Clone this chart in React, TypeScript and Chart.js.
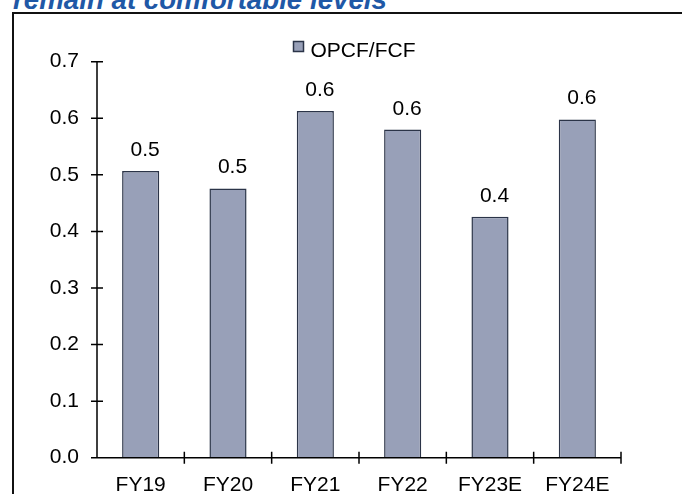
import React, { useEffect, useRef } from "react";
import { Chart, registerables } from "chart.js";

Chart.register(...registerables);

// Chart data
const categories = ["FY19", "FY20", "FY21", "FY22", "FY23E", "FY24E"];
const opcfToFcf = [0.507, 0.476, 0.613, 0.58, 0.426, 0.598];
const yTicks = [0, 0.1, 0.2, 0.3, 0.4, 0.5, 0.6, 0.7];
const seriesName = "OPCF/FCF";
const heading = "remain at comfortable levels";

const FONT = "'Liberation Sans', Arial, Helvetica, sans-serif";
const FONT_SIZE = 21;
const BAR_FILL = "#98a0b8";
const BAR_EDGE = "#2b3448";
const INK = "#000000";
const W = 682;
const H = 494;

// Axis lines with tick marks that cross the axis on both sides
const crossAxes = {
  id: "crossAxes",
  afterDatasetsDraw(chart: any) {
    const { ctx, chartArea: a, scales } = chart;
    const xs = scales.x;
    const ys = scales.y;
    const y0 = ys.getPixelForValue(0);
    const yTop = ys.getPixelForValue(yTicks[yTicks.length - 1]);
    ctx.save();
    ctx.strokeStyle = INK;
    ctx.lineWidth = 1.5;
    ctx.beginPath();
    ctx.moveTo(a.left, yTop);
    ctx.lineTo(a.left, y0);
    ctx.moveTo(a.left, y0);
    ctx.lineTo(a.right, y0);
    yTicks.forEach((v) => {
      const py = ys.getPixelForValue(v);
      ctx.moveTo(a.left - 6, py);
      ctx.lineTo(v === 0 ? a.left : a.left + 6, py);
    });
    const n = categories.length;
    for (let i = 1; i <= n; i++) {
      const px = i === n ? a.right : (xs.getPixelForValue(i - 1) + xs.getPixelForValue(i)) / 2;
      ctx.moveTo(px, y0 - 6);
      ctx.lineTo(px, y0 + 6);
    }
    ctx.stroke();
    ctx.restore();
  },
};

// Value labels above each bar
const valueLabels = {
  id: "valueLabels",
  afterDatasetsDraw(chart: any) {
    const { ctx } = chart;
    const meta = chart.getDatasetMeta(0);
    ctx.save();
    ctx.fillStyle = INK;
    ctx.font = `${FONT_SIZE}px ${FONT}`;
    ctx.textAlign = "center";
    ctx.textBaseline = "alphabetic";
    meta.data.forEach((bar: any, i: number) => {
      ctx.fillText(opcfToFcf[i].toFixed(1), bar.x + 4.5, bar.y - 15);
    });
    ctx.restore();
  },
};

// Single-entry legend above the plot
const seriesKey = {
  id: "seriesKey",
  afterDraw(chart: any) {
    const { ctx, chartArea: a } = chart;
    const ds = chart.data.datasets[0];
    ctx.save();
    ctx.font = `${FONT_SIZE}px ${FONT}`;
    const tw = ctx.measureText(ds.label).width;
    const box = 10;
    const gap = 7;
    const total = box + gap + tw;
    const left = (a.left + a.right) / 2 - 4.5 - total / 2;
    const boxTop = 41.5;
    ctx.fillStyle = ds.backgroundColor;
    ctx.fillRect(left, boxTop, box, box);
    ctx.strokeStyle = ds.borderColor;
    ctx.lineWidth = 1.5;
    ctx.strokeRect(left, boxTop, box, box);
    ctx.fillStyle = INK;
    ctx.textAlign = "left";
    ctx.textBaseline = "alphabetic";
    ctx.fillText(ds.label, left + box + gap, 56.5);
    ctx.restore();
  },
};

function OpcfChart() {
  const ref = useRef<HTMLCanvasElement | null>(null);

  useEffect(() => {
    if (!ref.current) return;
    const chart = new Chart(ref.current, {
      type: "bar",
      data: {
        labels: categories,
        datasets: [
          {
            label: seriesName,
            data: opcfToFcf,
            backgroundColor: BAR_FILL,
            borderColor: BAR_EDGE,
            borderWidth: 1.5,
            categoryPercentage: 0.85,
            barPercentage: 0.5,
          },
        ],
      },
      options: {
        responsive: false,
        animation: false,
        devicePixelRatio: 1,
        layout: { padding: { left: 13, right: 61, top: 61.7, bottom: 0 } },
        plugins: {
          legend: { display: false },
          tooltip: { enabled: false },
          title: { display: false },
        },
        scales: {
          x: {
            grid: { display: false, drawTicks: false },
            border: { display: false },
            ticks: {
              color: INK,
              font: { family: FONT, size: FONT_SIZE },
              padding: 15,
              maxRotation: 0,
              autoSkip: false,
            },
            afterFit: (s: any) => {
              s.height = 36.3;
            },
          },
          y: {
            min: 0,
            max: 0.7,
            grid: { display: false, drawTicks: false },
            border: { display: false },
            ticks: {
              stepSize: 0.1,
              color: INK,
              font: { family: FONT, size: FONT_SIZE },
              padding: 18,
              callback: (v: any) => Number(v).toFixed(1),
            },
            afterFit: (s: any) => {
              s.width = 84;
            },
          },
        },
      },
      plugins: [crossAxes, valueLabels, seriesKey],
    });
    return () => chart.destroy();
  }, []);

  return (
    <canvas
      ref={ref}
      width={W}
      height={H}
      style={{ position: "absolute", left: 0, top: 0, width: W, height: H }}
    />
  );
}

export default function App() {
  return (
    <div
      style={{
        position: "fixed",
        left: 0,
        top: 0,
        width: W,
        height: H,
        overflow: "hidden",
        background: "#ffffff",
      }}
    >
      <div
        style={{
          position: "absolute",
          left: 13,
          top: -14,
          fontFamily: FONT,
          fontWeight: "bold",
          fontStyle: "italic",
          fontSize: 27.7,
          lineHeight: "27.7px",
          color: "#1f58a6",
          whiteSpace: "nowrap",
        }}
      >
        {heading}
      </div>
      <div
        style={{
          position: "absolute",
          left: 12,
          top: 12,
          width: W,
          height: H,
          border: "2px solid #111111",
        }}
      />
      <OpcfChart />
    </div>
  );
}
